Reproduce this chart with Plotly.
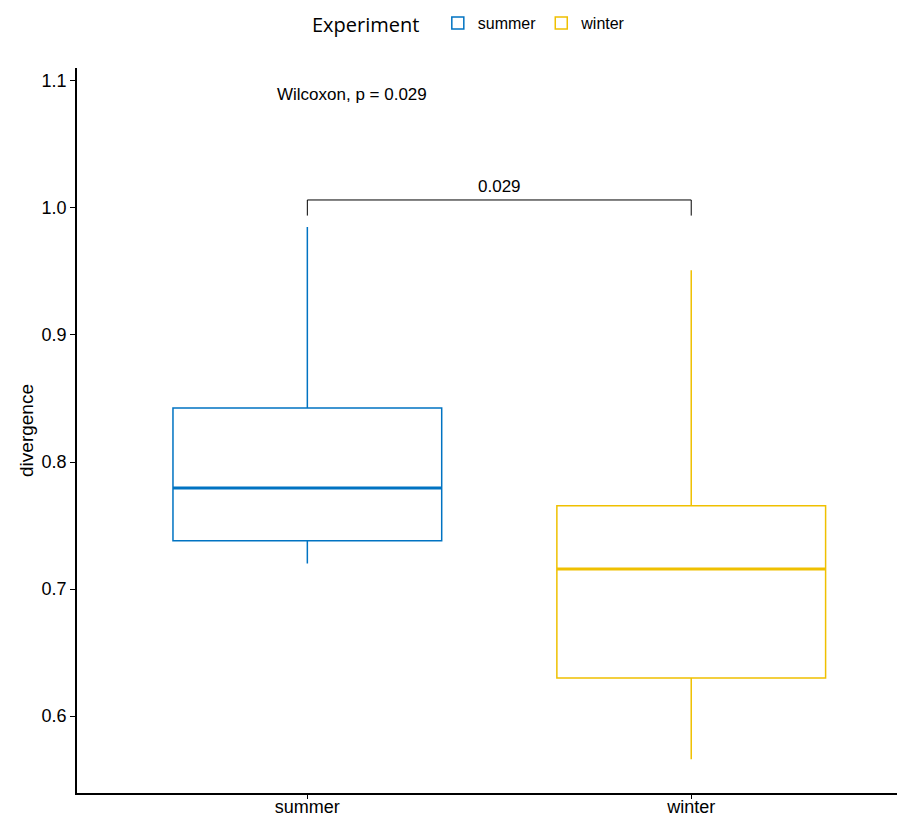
import plotly.graph_objects as go

groups = ["summer", "winter"]
colors = ["#0073C2", "#EFC000"]
lower_whisker = [0.720, 0.566]
q1 = [0.738, 0.630]
median = [0.7795, 0.7157]
q3 = [0.8425, 0.7655]
upper_whisker = [0.985, 0.951]
p_value = "0.029"
bracket_y = 1.0063
bracket_tick = 0.994

box_w = 0.7
fig = go.Figure()
for i, g in enumerate(groups):
    fig.add_trace(go.Box(
        x=[i], q1=[q1[i]], median=[median[i]], q3=[q3[i]],
        lowerfence=[lower_whisker[i]], upperfence=[upper_whisker[i]],
        name=g, width=box_w, whiskerwidth=0,
        line=dict(color=colors[i], width=1.5), fillcolor="rgba(255,255,255,0)",
        hoverinfo="skip", showlegend=True,
    ))
    fig.add_trace(go.Scatter(
        x=[i - box_w / 2, i + box_w / 2], y=[median[i], median[i]],
        mode="lines", line=dict(color=colors[i], width=3),
        showlegend=False, hoverinfo="skip",
    ))

fig.add_trace(go.Scatter(
    x=[0, 0, 1, 1], y=[bracket_tick, bracket_y, bracket_y, bracket_tick],
    mode="lines", line=dict(color="black", width=1),
    showlegend=False, hoverinfo="skip",
))
fig.add_annotation(x=0.5, y=bracket_y, text=p_value, showarrow=False,
                   yanchor="bottom", yshift=2,
                   font=dict(family="Liberation Sans, Arial", size=17, color="black"))
fig.add_annotation(x=0.117, y=1.089, text="Wilcoxon, p = " + p_value, showarrow=False,
                   font=dict(family="Liberation Sans, Arial", size=17, color="black"))

fig.update_layout(
    width=898, height=818,
    margin=dict(l=77, r=1, t=68, b=25, autoexpand=False),
    plot_bgcolor="white", paper_bgcolor="white",
    font=dict(family="Liberation Sans, Arial", size=15, color="black"),
    legend=dict(
        orientation="h", x=310 / 898, xref="container", xanchor="left",
        y=1 - 6 / 818, yref="container", yanchor="top",
        title=dict(text="Experiment  ", side="left",
                   font=dict(family="Open Sans", size=20, color="black")),
        font=dict(family="Liberation Sans, Arial", size=16, color="black"),
        tracegroupgap=0,
    ),
    xaxis=dict(
        range=[-0.6, 1.536], tickvals=[0, 1], ticktext=groups,
        showline=True, linecolor="black", linewidth=1.5,
        ticks="outside", ticklen=4, tickcolor="black",
        showgrid=False, zeroline=False, automargin=False,
        ticklabelstandoff=-7,
        tickfont=dict(size=18, color="black"),
    ),
    yaxis=dict(
        range=[0.5394, 1.1102], tickvals=[0.6, 0.7, 0.8, 0.9, 1.0, 1.1],
        ticktext=["0.6", "0.7", "0.8", "0.9", "1.0", "1.1"],
        showline=True, linecolor="black", linewidth=1.5,
        ticks="outside", ticklen=5, tickcolor="black",
        showgrid=False, zeroline=False, automargin=False,
        tickfont=dict(size=18, color="black"),
        title=dict(text="divergence", font=dict(size=19, color="black"), standoff=3),
    ),
)

fig.write_html(
    "out.html",
    config={"displayModeBar": False},
    post_script="document.body.style.margin='0';document.body.style.overflow='hidden';",
)
